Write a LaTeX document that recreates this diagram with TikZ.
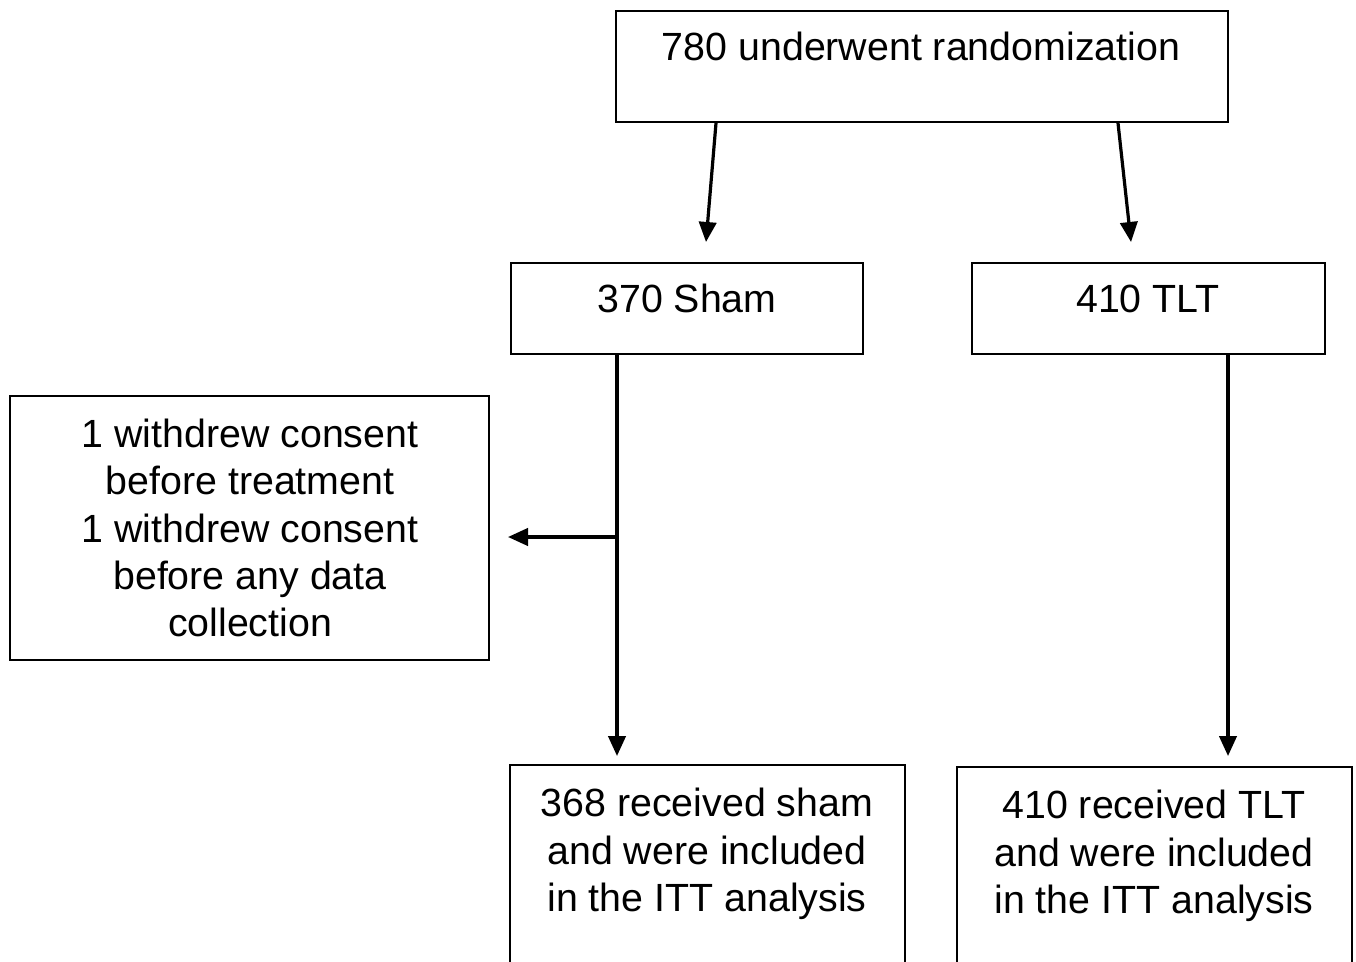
\documentclass[tikz,border=0pt]{standalone}
\usepackage{fontspec}
\setmainfont{Liberation Sans}
\usetikzlibrary{arrows.meta}
\begin{document}
\begin{tikzpicture}[x=0.75pt,y=-0.75pt,
  box/.style={draw=black,line width=1.6pt,rectangle,inner sep=0pt},
  txt/.style={font=\fontsize{29.5}{35.6}\selectfont,align=center,inner sep=0pt},
  arr/.style={line width=2.4pt,-{Triangle[width=13pt,length=15pt]}}]
\useasboundingbox (0,0) rectangle (1356,962);
\clip (0,0) rectangle (1356,962);
% boxes
\node[box,minimum width=459pt,minimum height=83.25pt] (top) at (922,66.5) {};
\node[box,minimum width=264pt,minimum height=68.25pt] (sham) at (687,308.5) {};
\node[box,minimum width=264.75pt,minimum height=68.25pt] (tlt) at (1148.5,308.5) {};
\node[box,minimum width=359.25pt,minimum height=198pt] (wd) at (249.5,528) {};
\node[box,minimum width=296.25pt,minimum height=225pt] (bs) at (707.5,915) {};
\node[box,minimum width=296.25pt,minimum height=225pt] (bt) at (1154.5,917) {};
% texts
\node[txt,anchor=base] (ttop) at (921,61) {780 underwent randomization};
\node[txt,anchor=base] (tsham) at (687,313) {370 Sham};
\node[txt,anchor=base] (ttlt) at (1148,313) {410 TLT};
\node[txt] (twd) at (250,528) {1 withdrew consent\\before treatment\\1 withdrew consent\\before any data\\collection};
\node[txt] (tbs) at (707,854) {368 received sham\\and were included\\in the ITT analysis};
\node[txt] (tbt) at (1154,856) {410 received TLT\\and were included\\in the ITT analysis};
% connector coordinates
\coordinate (s1) at (716,122);
\coordinate (e1) at (706,242);
\coordinate (s2) at (1118,122);
\coordinate (e2) at (1131,242);
\coordinate (shx) at (617,537);
\coordinate (e3) at (617,756);
\coordinate (e4) at (508,537);
\coordinate (tx) at (1228,600);
\coordinate (e5) at (1228,756);
% connectors
\draw[arr] (top.south -| s1) -- (e1);
\draw[arr] (top.south -| s2) -- (e2);
\draw[arr] (sham.south -| shx) -- (e3);
\draw[arr] (shx) -- (e4);
\draw[arr] (tlt.south -| tx) -- (e5);
\end{tikzpicture}
\end{document}
